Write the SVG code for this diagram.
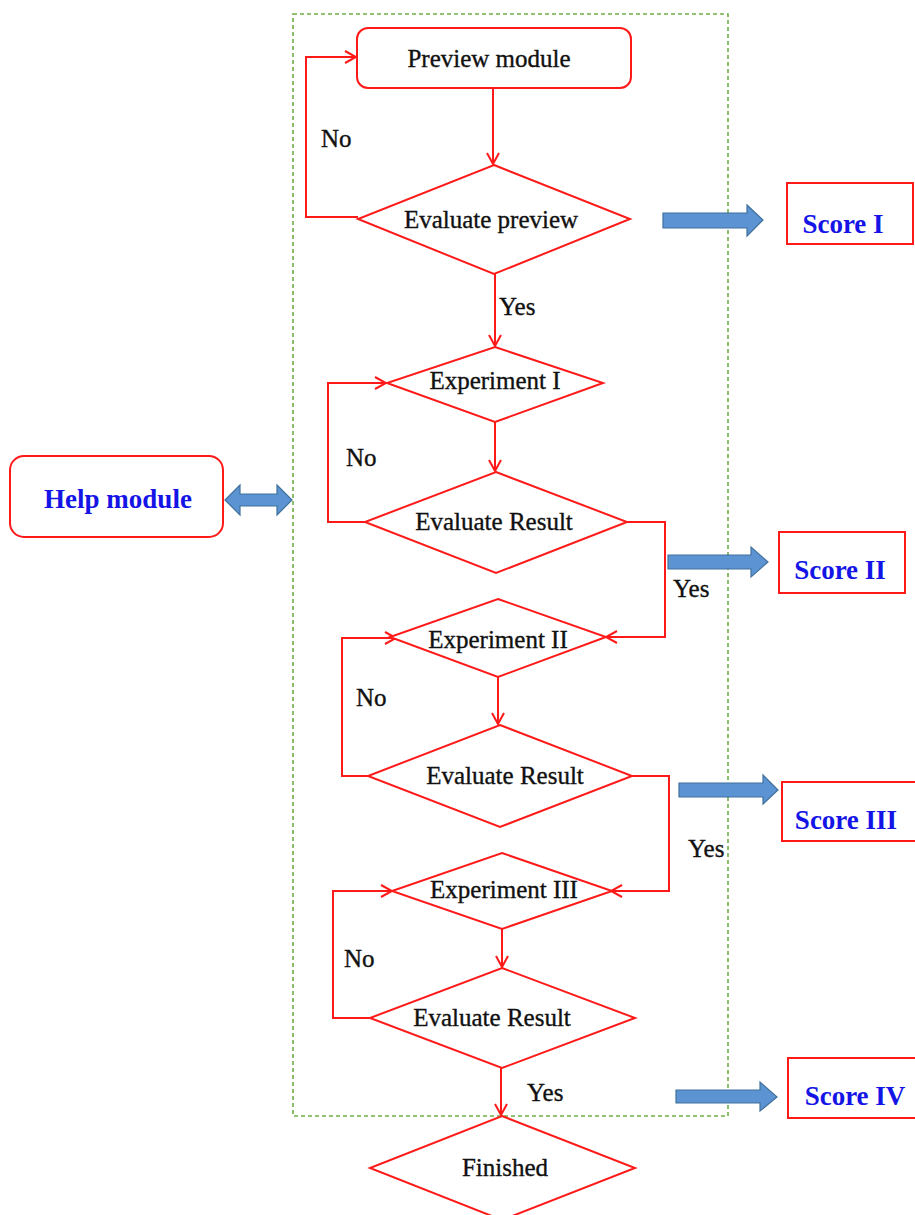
<svg xmlns="http://www.w3.org/2000/svg" width="915" height="1215" viewBox="0 0 915 1215">
<style>
.shape{fill:#fff;stroke:#ff1a1a;stroke-width:2}
.conn{fill:none;stroke:#ff1a1a;stroke-width:2}
.t{font-family:"Liberation Serif","Times New Roman",serif;font-size:25px;fill:#111;stroke:#111;stroke-width:0.35;text-anchor:middle}
.lbl{font-family:"Liberation Serif","Times New Roman",serif;font-size:25px;fill:#111;stroke:#111;stroke-width:0.35}
.blue{font-family:"Liberation Serif","Times New Roman",serif;font-size:27px;font-weight:bold;fill:#1414e6;text-anchor:middle}
.barrow{fill:#5b93d3;stroke:#41719c;stroke-width:1.2}
</style>
<defs>
<marker id="ah" markerWidth="14" markerHeight="14" refX="12" refY="7" orient="auto" markerUnits="userSpaceOnUse">
<path d="M1,1 L12,7 L1,13" fill="none" stroke="#ff1a1a" stroke-width="2"/>
</marker>
</defs>
<rect width="915" height="1215" fill="#fff"/>
<rect id="frame" x="293" y="14" width="435" height="1102" fill="none" stroke="#6fae47" stroke-width="1.6" stroke-dasharray="4,3"/>

<g id="connectors">
<path class="conn" d="M493,88 L493,164" marker-end="url(#ah)"/>
<path class="conn" d="M358,217 L306,217 L306,57 L356,57" marker-end="url(#ah)"/>
<path class="conn" d="M495,274 L495,346" marker-end="url(#ah)"/>
<path class="conn" d="M495,422 L495,471" marker-end="url(#ah)"/>
<path class="conn" d="M365,522 L328,522 L328,383 L386,383" marker-end="url(#ah)"/>
<path class="conn" d="M627,522 L665,522 L665,637 L606,637" marker-end="url(#ah)"/>
<path class="conn" d="M498,677 L498,724" marker-end="url(#ah)"/>
<path class="conn" d="M368,776 L342,776 L342,638 L396,638" marker-end="url(#ah)"/>
<path class="conn" d="M632,776 L669,776 L669,891 L611,891" marker-end="url(#ah)"/>
<path class="conn" d="M502,929 L502,967" marker-end="url(#ah)"/>
<path class="conn" d="M370,1018 L333,1018 L333,891 L392,891" marker-end="url(#ah)"/>
<path class="conn" d="M501,1068 L501,1115" marker-end="url(#ah)"/>
<polygon class="barrow" points="663,213 747,213 747,205 763,220 747,236 747,228 663,228"/>
<polygon class="barrow" points="668,555 751,555 751,547 768,562 751,577 751,569 668,569"/>
<polygon class="barrow" points="679,783 763,783 763,775 778,790 763,804 763,797 679,797"/>
<polygon class="barrow" points="676,1090 760,1090 760,1082 777,1097 760,1111 760,1103 676,1103"/>
<polygon class="barrow" points="225,500 240,485 240,494 277,494 277,485 292,500 277,515 277,506 240,506 240,515"/>
<text class="lbl" x="321" y="147">No</text>
<text class="lbl" x="499" y="315">Yes</text>
<text class="lbl" x="346" y="466">No</text>
<text class="lbl" x="673" y="597">Yes</text>
<text class="lbl" x="356" y="706">No</text>
<text class="lbl" x="688" y="857">Yes</text>
<text class="lbl" x="344" y="967">No</text>
<text class="lbl" x="527" y="1101">Yes</text>
</g>

<g id="preview">
<rect class="shape" x="357" y="28" width="274" height="60" rx="11"/>
<text class="t" x="489" y="67">Preview module</text>
</g>
<g id="evalPreview">
<polygon class="shape" points="494,165 630,219 494,274 358,219"/>
<text class="t" x="491" y="228">Evaluate preview</text>
</g>
<g id="exp1">
<polygon class="shape" points="495,347 603,383 495,422 387,383"/>
<text class="t" x="495" y="389">Experiment I</text>
</g>
<g id="eval1">
<polygon class="shape" points="496,472 627,522 496,573 365,522"/>
<text class="t" x="494" y="530">Evaluate Result</text>
</g>
<g id="exp2">
<polygon class="shape" points="498,599 606,637 498,677 390,637"/>
<text class="t" x="498" y="648">Experiment II</text>
</g>
<g id="eval2">
<polygon class="shape" points="500,725 632,776 500,827 368,776"/>
<text class="t" x="505" y="784">Evaluate Result</text>
</g>
<g id="exp3">
<polygon class="shape" points="502,853 612,891 502,929 392,891"/>
<text class="t" x="504" y="898">Experiment III</text>
</g>
<g id="eval3">
<polygon class="shape" points="502,968 635,1018 502,1068 370,1018"/>
<text class="t" x="492" y="1026">Evaluate Result</text>
</g>
<g id="finished">
<polygon class="shape" points="502,1116 635,1168 502,1220 370,1168"/>
<text class="t" x="505" y="1176">Finished</text>
</g>
<g id="help">
<rect class="shape" x="10" y="456" width="213" height="81" rx="14"/>
<text class="blue" x="118" y="508">Help module</text>
</g>
<g id="score1">
<rect class="shape" x="787" y="183" width="126" height="61"/>
<text class="blue" x="843" y="233">Score I</text>
</g>
<g id="score2">
<rect class="shape" x="779" y="532" width="126" height="61"/>
<text class="blue" x="840" y="579">Score II</text>
</g>
<g id="score3">
<rect class="shape" x="782" y="782" width="140" height="59"/>
<text class="blue" x="846" y="829">Score III</text>
</g>
<g id="score4">
<rect class="shape" x="788" y="1058" width="134" height="60"/>
<text class="blue" x="855" y="1105">Score IV</text>
</g>
</svg>
